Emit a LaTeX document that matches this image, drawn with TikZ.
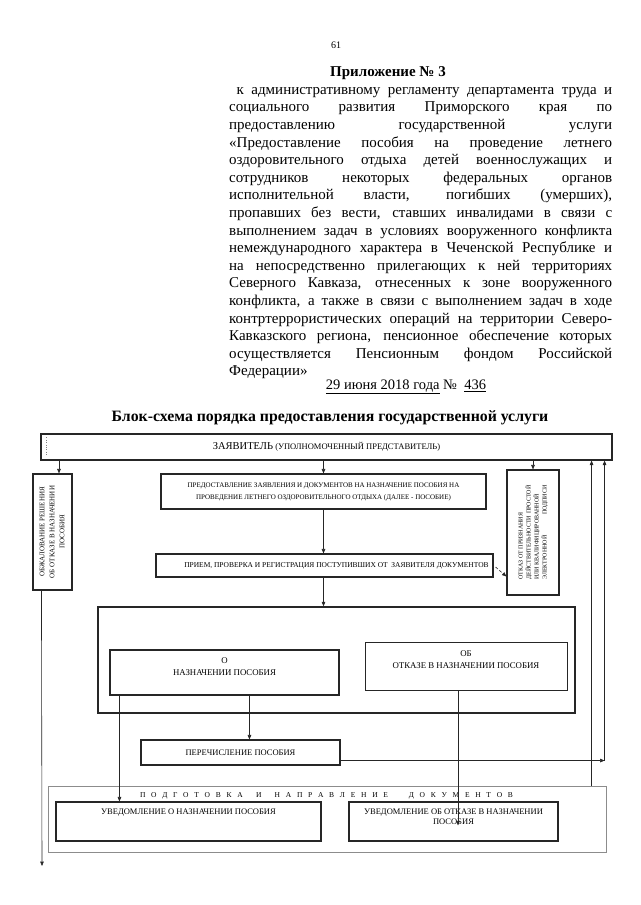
\documentclass[tikz,border=0pt]{standalone}
\usepackage{fontspec}
\setmainfont{Liberation Serif}
\usepackage{graphicx}
\usetikzlibrary{arrows.meta,calc}

\newcommand{\jline}[1]{\makebox[383pt][s]{#1}}

\tikzset{
    blok/.style={draw=black!85, line width=1.1pt, align=center, inner sep=1pt, font=\fontsize{8.5}{10}\selectfont},
    ramka/.style={draw=black!85, line width=1.4pt},
    seraya/.style={draw=black!45, line width=0.8pt},
    arr/.style={-{Triangle[length=4.5pt,width=3.6pt]}, line width=0.6pt, black!85},
    punktir/.style={arr, densely dashed}
}

\begin{document}
\begin{tikzpicture}[x=1pt, y=-1pt]
    \useasboundingbox (0,0) rectangle (640,905);

    % Header
    \node[font=\fontsize{10}{12}\selectfont] (str) at (336,45) {61};
    \node[font=\fontsize{15}{18}\selectfont\bfseries] (prilzag) at (388,73) {Приложение № 3};
    \node[anchor=north west, inner sep=0pt, align=left, font=\fontsize{15}{17.6}\selectfont] (pril) at (229,87) {%
        \jline{\ к административному регламенту департамента труда и}\\
        \jline{социального развития Приморского края по}\\
        \jline{предоставлению государственной услуги}\\
        \jline{«Предоставление пособия на проведение летнего}\\
        \jline{оздоровительного отдыха детей военнослужащих и}\\
        \jline{сотрудников некоторых федеральных органов}\\
        \jline{исполнительной власти, погибших (умерших),}\\
        \jline{пропавших без вести, ставших инвалидами в связи с}\\
        \jline{выполнением задач в условиях вооруженного конфликта}\\
        \jline{немеждународного характера в Чеченской Республике и}\\
        \jline{на непосредственно прилегающих к ней территориях}\\
        \jline{Северного Кавказа, отнесенных к зоне вооруженного}\\
        \jline{конфликта, а также в связи с выполнением задач в ходе}\\
        \jline{контртеррористических операций на территории Северо-}\\
        \jline{Кавказского региона, пенсионное обеспечение которых}\\
        \jline{осуществляется Пенсионным фондом Российской}\\
        Федерации»};
    \node[font=\fontsize{14.5}{18}\selectfont] (data) at (406,387) {\underline{29 июня 2018 года} № \ \underline{436}};
    \node[font=\fontsize{15.8}{18}\selectfont\bfseries] (zagol) at (330,418) {Блок-схема порядка предоставления государственной услуги};

    % Nodes
    \node[blok, minimum width=571pt, minimum height=26pt, font=\fontsize{8.5}{10}\selectfont] (zayav) at (326.5,447) {{\fontsize{10.5}{12}\selectfont ЗАЯВИТЕЛЬ} (УПОЛНОМОЧЕННЫЙ ПРЕДСТАВИТЕЛЬ)};
    \node[blok, minimum width=39pt, minimum height=116pt, font=\fontsize{7}{10}\selectfont] (obzh) at (52.5,532) {\rotatebox{90}{\begin{tabular}{@{}c@{}}ОБЖАЛОВАНИЕ РЕШЕНИЯ\\ОБ ОТКАЗЕ В НАЗНАЧЕНИИ\\ПОСОБИЯ\end{tabular}}};
    \node[blok, minimum width=325pt, minimum height=35pt, font=\fontsize{7}{12}\selectfont] (predost) at (323.5,491.5) {ПРЕДОСТАВЛЕНИЕ ЗАЯВЛЕНИЯ И ДОКУМЕНТОВ НА НАЗНАЧЕНИЕ ПОСОБИЯ НА\\ПРОВЕДЕНИЕ ЛЕТНЕГО ОЗДОРОВИТЕЛЬНОГО ОТДЫХА (ДАЛЕЕ - ПОСОБИЕ)};
    \node[blok, minimum width=337pt, minimum height=23pt, font=\fontsize{7.45}{10}\selectfont] (priem) at (324.5,565.5) {\hspace*{24pt}ПРИЕМ, ПРОВЕРКА И РЕГИСТРАЦИЯ ПОСТУПИВШИХ ОТ \ ЗАЯВИТЕЛЯ ДОКУМЕНТОВ};
    \node[blok, minimum width=52pt, minimum height=125pt, font=\fontsize{6}{8}\selectfont] (otkazEP) at (533,532.5) {\rotatebox{90}{\begin{tabular}{@{}l@{}}ОТКАЗ ОТ ПРИЗНАНИЯ\\\makebox[94pt][s]{ДЕЙСТВИТЕЛЬНОСТИ ПРОСТОЙ}\\ИЛИ КВАЛИФИЦИРОВАННОЙ\\\makebox[94pt][s]{ЭЛЕКТРОННОЙ ПОДПИСИ}\end{tabular}}};

    \node[ramka, minimum width=477pt, minimum height=106pt] (reshenie) at (336.5,660) {};
    \node[blok, minimum width=229pt, minimum height=45pt, font=\fontsize{8.8}{12}\selectfont] (naznach) at (224.5,672.5) {О\\НАЗНАЧЕНИИ ПОСОБИЯ\\\mbox{}};
    \node[blok, line width=0.8pt, minimum width=202pt, minimum height=48pt, font=\fontsize{8.8}{12}\selectfont] (otkaz) at (466,666) {ОБ\\ОТКАЗЕ В НАЗНАЧЕНИИ ПОСОБИЯ\\\mbox{}};
    \node[blok, minimum width=199pt, minimum height=25pt] (perech) at (240.5,752.5) {ПЕРЕЧИСЛЕНИЕ ПОСОБИЯ};

    \node[seraya, minimum width=558pt, minimum height=66pt] (podgot) at (327,819) {};
    \node[font=\fontsize{7.5}{9}\selectfont] (podgotlbl) at (326.5,796) {\makebox[373pt][s]{П О Д Г О Т О В К А \quad И \quad Н А П Р А В Л Е Н И Е \quad\quad Д О К У М Е Н Т О В}};
    \node[blok, minimum width=265pt, minimum height=39pt] (uvedN) at (188.5,821.5) {УВЕДОМЛЕНИЕ О НАЗНАЧЕНИИ ПОСОБИЯ\\\mbox{}\\\mbox{}};
    \node[blok, minimum width=209pt, minimum height=39pt] (uvedO) at (453.5,821.5) {УВЕДОМЛЕНИЕ ОБ ОТКАЗЕ В НАЗНАЧЕНИИ\\ПОСОБИЯ\\\mbox{}};

    \draw[dotted, black!50] ($(zayav.north west)+(6,4)$) -- ($(zayav.south west)+(6,-4)$);

    % Arrows
    \coordinate (z1) at ($(obzh.north)+(6.5,0)$);
    \draw[arr] (z1 |- zayav.south) -- (z1);
    \draw[arr] (predost.north |- zayav.south) -- (predost.north);
    \draw[arr] (otkazEP.north |- zayav.south) -- (otkazEP.north);
    \draw[arr] (predost.south) -- (predost.south |- priem.north);
    \draw[arr] (predost.south |- priem.south) -- (predost.south |- reshenie.north);
    \draw[punktir] ($(priem.east)+(2,1.5)$) -- ($(otkazEP.south west)+(0,-19)$);

    \coordinate (n1) at ($(naznach.south west)+(10,0)$);
    \coordinate (n2) at ($(naznach.south west)+(140,0)$);
    \draw[arr] (n1) -- (n1 |- uvedN.north);
    \draw[arr] (n2) -- (n2 |- perech.north);
    \coordinate (o1) at ($(otkaz.south)+(-8,0)$);
    \coordinate (o2) at ($(o1 |- uvedO.north)+(0,24)$);
    \draw[arr] (o1) -- (o2);

    \coordinate (r1) at ($(zayav.south east)+(-21,0)$);
    \coordinate (r2) at ($(zayav.south east)+(-8,0)$);
    \coordinate (p1) at ($(perech.south east)+(0,-5)$);
    \draw[arr] (p1) -- (p1 -| r2);
    \draw[arr] (p1 -| r2) -- (r2);
    \draw[arr] (r1 |- podgot.north) -- (r1);

    \coordinate (l1) at ($(obzh.south west)+(9,0)$);
    \coordinate (vyhod) at (42,866);
    \draw[arr] (l1) -- (vyhod);

\end{tikzpicture}
\end{document}
